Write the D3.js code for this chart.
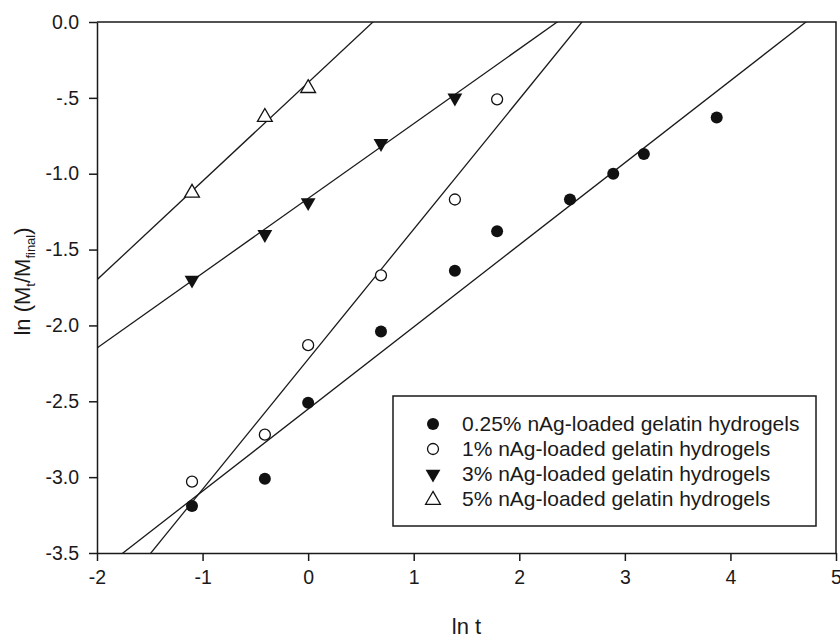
<!DOCTYPE html>
<html>
<head>
<meta charset="utf-8">
<script src="https://cdn.jsdelivr.net/npm/d3@7"></script>
<style>
  html, body { margin: 0; padding: 0; background: #fff; }
  svg { display: block; font-family: "Liberation Sans", Arial, sans-serif; }
  .axis path, .axis line { stroke: #1a1a1a; stroke-width: 1.5; }
  .axis text { fill: #1a1a1a; font-size: 19.5px; font-family: "Liberation Sans", Arial, sans-serif; }
</style>
</head>
<body>
<div id="chart"></div>
<script>
  // ln of sampling times (1/3, 2/3, 1, 2, 4, 6, 12, 18, 24, 48)
  var lnT = [-1.10, -0.41, 0, 0.69, 1.39, 1.79, 2.48, 2.89, 3.18, 3.87];

  var seriesNames = [
    "0.25% nAg-loaded gelatin hydrogels",
    "1% nAg-loaded gelatin hydrogels",
    "3% nAg-loaded gelatin hydrogels",
    "5% nAg-loaded gelatin hydrogels"
  ];
  var y025 = [-3.19, -3.01, -2.51, -2.04, -1.64, -1.38, -1.17, -1.00, -0.87, -0.63];
  var y1 = [-3.03, -2.72, -2.13, -1.67, -1.17, -0.51];
  var y3 = [-1.70, -1.40, -1.19, -0.80, -0.50];
  var y5 = [-1.12, -0.62, -0.43];

  // fitted lines: slope, intercept
  var fitSlope = [0.541, 0.857, 0.493, 0.650];
  var fitIntercept = [-2.551, -2.223, -1.163, -0.399];

  var xTicks = [-2, -1, 0, 1, 2, 3, 4, 5];
  var xTickLabels = ["-2", "-1", "0", "1", "2", "3", "4", "5"];
  var yTicks = [0, -0.5, -1, -1.5, -2, -2.5, -3, -3.5];
  var yTickLabels = ["0.0", "-.5", "-1.0", "-1.5", "-2.0", "-2.5", "-3.0", "-3.5"];

  var W = 840, H = 638;
  var L = 97, R = 836, T = 22, B = 553;

  var x = d3.scaleLinear().domain([-2, 5]).range([L, R]);
  var y = d3.scaleLinear().domain([-3.5, 0]).range([B, T]);

  var svg = d3.select("#chart").append("svg").attr("width", W).attr("height", H);

  svg.append("defs").append("clipPath").attr("id", "plot")
    .append("rect").attr("x", L).attr("y", T).attr("width", R - L).attr("height", B - T);

  // frame (top and right)
  svg.append("path")
    .attr("d", "M" + L + "," + T + "H" + R + "V" + B)
    .attr("fill", "none").attr("stroke", "#1a1a1a").attr("stroke-width", 1.5);

  svg.append("g").attr("class", "axis")
    .attr("transform", "translate(0," + B + ")")
    .call(d3.axisBottom(x).tickValues(xTicks).tickSize(8).tickSizeOuter(0).tickPadding(9)
      .tickFormat(function (d, i) { return xTickLabels[i]; }));

  svg.append("g").attr("class", "axis")
    .attr("transform", "translate(" + L + ",0)")
    .call(d3.axisLeft(y).tickValues(yTicks).tickSize(8).tickSizeOuter(0).tickPadding(10)
      .tickFormat(function (d, i) { return yTickLabels[i]; }));

  // fit lines
  var lines = svg.append("g").attr("clip-path", "url(#plot)");
  fitSlope.forEach(function (m, i) {
    var b = fitIntercept[i];
    lines.append("line")
      .attr("x1", x(-2)).attr("y1", y(m * -2 + b))
      .attr("x2", x(5)).attr("y2", y(m * 5 + b))
      .attr("stroke", "#1a1a1a").attr("stroke-width", 1.3);
  });

  var seriesY = [y025, y1, y3, y5];
  var triUp = d3.symbol().type(d3.symbolTriangle).size(95);

  function drawMarker(g, k, cx, cy) {
    if (k === 0) {
      g.append("circle").attr("cx", cx).attr("cy", cy).attr("r", 6).attr("fill", "#111");
    } else if (k === 1) {
      g.append("circle").attr("cx", cx).attr("cy", cy).attr("r", 5.5)
        .attr("fill", "#fff").attr("stroke", "#111").attr("stroke-width", 1.3);
    } else if (k === 2) {
      g.append("path").attr("d", triUp())
        .attr("transform", "translate(" + cx + "," + cy + ") rotate(180)")
        .attr("fill", "#111");
    } else {
      g.append("path").attr("d", triUp())
        .attr("transform", "translate(" + cx + "," + (cy + 1) + ")")
        .attr("fill", "#fff").attr("stroke", "#111").attr("stroke-width", 1.3);
    }
  }

  var marks = svg.append("g");
  seriesY.forEach(function (vals, k) {
    vals.forEach(function (v, j) {
      drawMarker(marks, k, x(lnT[j]), y(v));
    });
  });

  // legend
  var lg = svg.append("g");
  lg.append("rect").attr("x", 393).attr("y", 396).attr("width", 423).attr("height", 130)
    .attr("fill", "#fff").attr("stroke", "#1a1a1a").attr("stroke-width", 1.5);
  seriesNames.forEach(function (name, k) {
    var cy = 424 + k * 25;
    drawMarker(lg, k, 433, cy);
    lg.append("text").attr("x", 462).attr("y", cy + 7)
      .attr("font-size", 21).attr("fill", "#1a1a1a").text(name);
  });

  // axis titles
  svg.append("text").attr("x", (L + R) / 2).attr("y", 634)
    .attr("text-anchor", "middle").attr("font-size", 22).attr("fill", "#1a1a1a").text("ln t");

  var yt = svg.append("text")
    .attr("transform", "translate(30," + ((T + B) / 2 - 6) + ") rotate(-90)")
    .attr("text-anchor", "middle").attr("font-size", 22).attr("fill", "#1a1a1a");
  yt.append("tspan").text("ln (M");
  yt.append("tspan").attr("font-size", 13).attr("dy", 5).text("t");
  yt.append("tspan").attr("dy", -5).text("/M");
  yt.append("tspan").attr("font-size", 13).attr("dy", 5).text("final");
  yt.append("tspan").attr("dy", -5).text(")");
</script>
</body>
</html>
